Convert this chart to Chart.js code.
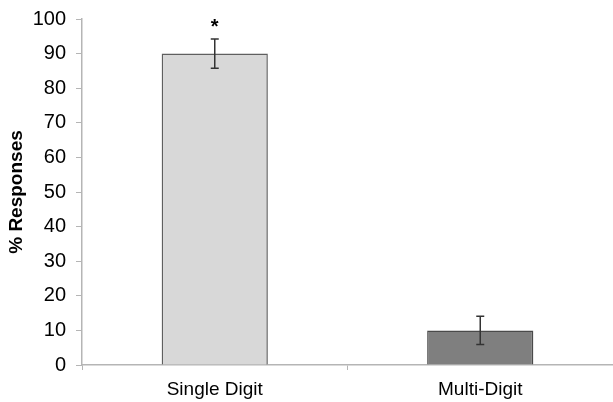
<!DOCTYPE html>
<html>
<head>
<meta charset="utf-8">
<script src="https://cdn.jsdelivr.net/npm/chart.js@4"></script>
<style>
  html, body { margin: 0; padding: 0; background: #fff; }
  #wrap { width: 613px; height: 402px; }
</style>
</head>
<body>
<div id="wrap"><canvas id="chart"></canvas></div>
<script>
const categories = ['Single Digit', 'Multi-Digit'];
const responses = [90, 10];
const errors = [4.2, 4.1];
const marks = ['*', ''];
const yTicks = [0, 10, 20, 30, 40, 50, 60, 70, 80, 90, 100];

// error bars + significance star, drawn through the scales
const errorBars = {
  id: 'errorBars',
  afterDatasetsDraw(chart) {
    const ctx = chart.ctx;
    const x = chart.scales.x, y = chart.scales.y;
    ctx.save();
    ctx.strokeStyle = '#333';
    ctx.lineWidth = 1.5;
    responses.forEach((v, i) => {
      const px = x.getPixelForValue(i);
      const top = y.getPixelForValue(v + errors[i]);
      const bot = y.getPixelForValue(v - errors[i]);
      ctx.beginPath();
      ctx.moveTo(px, top); ctx.lineTo(px, bot);
      ctx.moveTo(px - 4, top); ctx.lineTo(px + 4, top);
      ctx.moveTo(px - 4, bot); ctx.lineTo(px + 4, bot);
      ctx.stroke();
      if (marks[i]) {
        ctx.fillStyle = '#000';
        ctx.font = 'bold 20px "Liberation Sans", Arial, sans-serif';
        ctx.textAlign = 'center';
        ctx.textBaseline = 'bottom';
        ctx.fillText(marks[i], px, top - 2);
      }
    });
    ctx.restore();
  }
};

const font = '"Liberation Sans", Arial, sans-serif';

new Chart(document.getElementById('chart'), {
  type: 'bar',
  data: {
    labels: categories,
    datasets: [{
      data: responses,
      backgroundColor: ['#d8d8d8', '#7f7f7f'],
      borderColor: ['#5f5f5f', '#4a4a4a'],
      borderWidth: 1.5,
      categoryPercentage: 1,
      barPercentage: 0.4
    }]
  },
  options: {
    responsive: true,
    maintainAspectRatio: false,
    animation: false,
    layout: { padding: { top: 0, right: 0, left: 0, bottom: 0 } },
    plugins: { legend: { display: false }, tooltip: { enabled: false } },
    scales: {
      x: {
        grid: { offset: true, drawOnChartArea: false, color: '#b5b5b5', tickLength: 5 },
        border: { color: '#b5b5b5', width: 1.5 },
        ticks: { color: '#000', font: { family: font, size: 19 }, padding: 8 },
        afterFit(s) { s.height = 37; }
      },
      y: {
        min: 0, max: 100,
        afterBuildTicks(s) { s.ticks = yTicks.map(v => ({ value: v })); },
        grid: { drawOnChartArea: false, color: '#b5b5b5', tickLength: 6 },
        border: { color: '#b5b5b5', width: 1.5 },
        ticks: { color: '#000', font: { family: font, size: 20, lineHeight: 0.9 }, padding: 10 },
        title: {
          display: true, text: '% Responses', color: '#000',
          font: { family: font, size: 19, weight: 'bold' },
          padding: { top: 5, bottom: 0 }
        },
        afterFit(s) { s.width = 82; }
      }
    }
  },
  plugins: [errorBars]
});
</script>
</body>
</html>
